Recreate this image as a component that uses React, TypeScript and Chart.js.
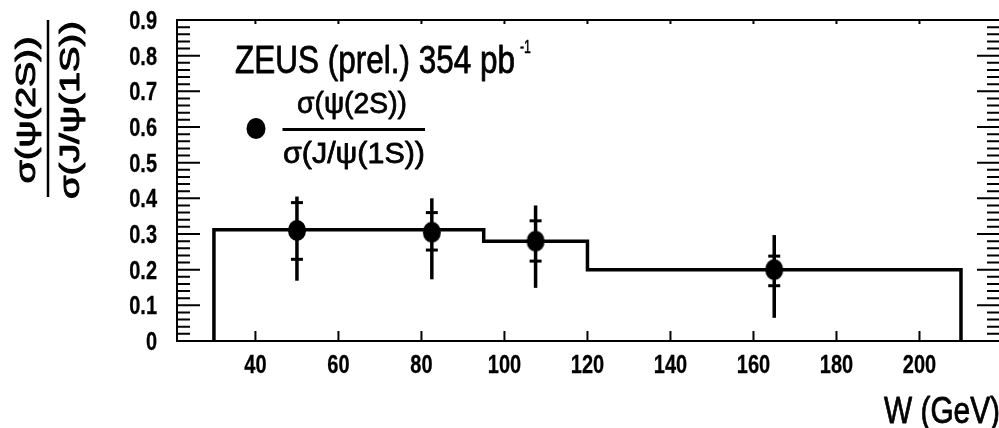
import React, { useEffect, useRef } from "react";
import { Chart, registerables } from "chart.js";

Chart.register(...registerables);

// ---- data ----
const wValues = [50, 82.5, 107.5, 165];
const ratioValues = [0.31, 0.305, 0.28, 0.2];
const statUpper = [0.388, 0.36, 0.337, 0.238];
const statLower = [0.229, 0.255, 0.224, 0.155];
const totalUpper = [0.405, 0.4, 0.38, 0.297];
const totalLower = [0.169, 0.173, 0.149, 0.065];

const binEdges = [30, 95, 120, 210];
const binHeights = [0.312, 0.28, 0.2];

const xTickValues = [40, 60, 80, 100, 120, 140, 160, 180, 200];
const xTickLabels = ["40", "60", "80", "100", "120", "140", "160", "180", "200"];
const yTickValues = [0, 0.1, 0.2, 0.3, 0.4, 0.5, 0.6, 0.7, 0.8, 0.9];
const yTickLabels = ["0", "0.1", "0.2", "0.3", "0.4", "0.5", "0.6", "0.7", "0.8", "0.9"];
const yMinorPerMajor = 5;

const titleText = "ZEUS (prel.) 354 pb";
const titleSup = "-1";
const legendNum = "σ(ψ(2S))";
const legendDen = "σ(J/ψ(1S))";
const xTitle = "W (GeV)";

const FONT = "'Liberation Sans', Arial, Helvetica, sans-serif";

function makeEllipse(rx: number, ry: number) {
  const c = document.createElement("canvas");
  c.width = Math.ceil(rx * 2) + 2;
  c.height = Math.ceil(ry * 2) + 2;
  const g = c.getContext("2d")!;
  g.fillStyle = "#000";
  g.beginPath();
  g.ellipse(c.width / 2, c.height / 2, rx, ry, 0, 0, Math.PI * 2);
  g.fill();
  return c;
}

// draws text squeezed horizontally; either to a target width (targetW>0) or by a fixed factor (-targetW)
function drawFit(
  ctx: CanvasRenderingContext2D,
  text: string,
  x: number,
  y: number,
  size: number,
  targetW: number,
  align: "left" | "center" | "right",
  weight = "normal",
  stroke = 0.8
) {
  ctx.save();
  ctx.font = `${weight} ${size}px ${FONT}`;
  ctx.textBaseline = "alphabetic";
  ctx.textAlign = "left";
  const w = ctx.measureText(text).width;
  const s = targetW > 0 ? targetW / w : -targetW;
  ctx.translate(x, y);
  ctx.scale(s, 1);
  ctx.fillStyle = "#000";
  ctx.strokeStyle = "#000";
  ctx.lineWidth = stroke;
  ctx.lineJoin = "round";
  const ox = align === "center" ? -w / 2 : align === "right" ? -w : 0;
  ctx.fillText(text, ox, 0);
  if (stroke > 0) ctx.strokeText(text, ox, 0);
  ctx.restore();
}

const decorPlugin = {
  id: "decor",
  afterDatasetsDraw(chart: any) {
    const ctx: CanvasRenderingContext2D = chart.ctx;
    const xs = chart.scales.x;
    const ys = chart.scales.y;
    ctx.save();
    ctx.strokeStyle = "#000";
    wValues.forEach((w, i) => {
      const px = xs.getPixelForValue(w);
      ctx.lineWidth = 3.5;
      ctx.beginPath();
      ctx.moveTo(px, ys.getPixelForValue(totalLower[i]));
      ctx.lineTo(px, ys.getPixelForValue(totalUpper[i]));
      ctx.stroke();
      ctx.lineWidth = 3;
      [statUpper[i], statLower[i]].forEach((v) => {
        const py = ys.getPixelForValue(v);
        ctx.beginPath();
        ctx.moveTo(px - 6, py);
        ctx.lineTo(px + 6, py);
        ctx.stroke();
      });
    });
    ctx.restore();
  },
  afterDraw(chart: any) {
    const ctx: CanvasRenderingContext2D = chart.ctx;
    const a = chart.chartArea;
    const xs = chart.scales.x;
    const ys = chart.scales.y;
    ctx.save();
    ctx.strokeStyle = "#000";
    ctx.lineWidth = 2;
    ctx.strokeRect(a.left, a.top, a.right - a.left, a.bottom - a.top);

    // y ticks, both sides
    const drawY = (v: number, len: number) => {
      const py = ys.getPixelForValue(v);
      ctx.beginPath();
      ctx.moveTo(a.left, py);
      ctx.lineTo(a.left + len, py);
      ctx.moveTo(a.right, py);
      ctx.lineTo(a.right - len, py);
      ctx.stroke();
    };
    yTickValues.forEach((v, i) => {
      drawY(v, 23);
      if (i < yTickValues.length - 1) {
        const d = (yTickValues[i + 1] - v) / yMinorPerMajor;
        for (let k = 1; k < yMinorPerMajor; k++) drawY(v + k * d, 13);
      }
    });
    // x ticks bottom & top
    xTickValues.forEach((v) => {
      const px = xs.getPixelForValue(v);
      ctx.beginPath();
      ctx.moveTo(px, a.bottom);
      ctx.lineTo(px, a.bottom - 10);
      ctx.moveTo(px, a.top);
      ctx.lineTo(px, a.top + 4);
      ctx.stroke();
    });
    ctx.restore();

    // tick labels from the axes' ticks
    xs.ticks.forEach((t: any, i: number) => {
      const px = xs.getPixelForValue(t.value);
      drawFit(ctx, xTickLabels[i], px, 373, 25, -0.8, "center", "bold", 0.3);
    });
    ys.ticks.forEach((t: any, i: number) => {
      const py = ys.getPixelForValue(t.value);
      drawFit(ctx, yTickLabels[i], 157, py + 9, 25, -0.8, "right", "bold", 0.3);
    });

    // title
    drawFit(ctx, titleText, 235, 73, 38, 280, "left");
    drawFit(ctx, titleSup, 520, 52.5, 19, 11, "left", "normal", 0.5);

    // legend
    ctx.save();
    ctx.fillStyle = "#000";
    ctx.beginPath();
    ctx.ellipse(256, 128.5, 9.5, 10.5, 0, 0, Math.PI * 2);
    ctx.fill();
    ctx.strokeStyle = "#000";
    ctx.lineWidth = 3;
    ctx.beginPath();
    ctx.moveTo(282.5, 129.5);
    ctx.lineTo(425, 129.5);
    ctx.stroke();
    ctx.restore();
    drawFit(ctx, legendNum, 352, 113, 30, 110, "center");
    drawFit(ctx, legendDen, 354, 163, 30, 142, "center");

    // x title
    drawFit(ctx, xTitle, 884, 423, 37, 116, "left");

    // y title (rotated fraction)
    ctx.save();
    ctx.strokeStyle = "#000";
    ctx.lineWidth = 2.5;
    ctx.beginPath();
    ctx.moveTo(48, 20);
    ctx.lineTo(48, 197);
    ctx.stroke();
    ctx.restore();
    const rot = (text: string, cx: number, cy: number, len: number) => {
      ctx.save();
      ctx.translate(cx, cy);
      ctx.rotate(-Math.PI / 2);
      drawFit(ctx, text, 0, 0, 28, len, "center", "normal", 1);
      ctx.restore();
    };
    rot(legendNum, 35, 110, 147);
    rot(legendDen, 78.5, 110, 178);
  },
};

export default function App() {
  const ref = useRef<HTMLCanvasElement | null>(null);
  useEffect(() => {
    document.body.style.margin = "0";
    const histPoints: { x: number; y: number }[] = [];
    histPoints.push({ x: binEdges[0], y: 0 });
    binHeights.forEach((h, i) => {
      histPoints.push({ x: binEdges[i], y: h });
      histPoints.push({ x: binEdges[i + 1], y: h });
    });
    histPoints.push({ x: binEdges[binEdges.length - 1], y: 0 });

    const marker = makeEllipse(9, 10.5);

    const chart = new Chart(ref.current!, {
      type: "scatter",
      data: {
        datasets: [
          {
            label: "hist",
            data: histPoints,
            showLine: true,
            borderColor: "#000",
            borderWidth: 3.5,
            pointRadius: 0,
            tension: 0,
            fill: false,
          } as any,
          {
            label: "ratio",
            data: wValues.map((w, i) => ({ x: w, y: ratioValues[i] })),
            pointStyle: marker as any,
            pointRadius: 9,
            backgroundColor: "#000",
            borderColor: "#000",
          },
        ],
      },
      options: {
        animation: false,
        responsive: false,
        devicePixelRatio: 1,
        layout: { padding: { top: 20, right: 7, left: 0, bottom: 0 } },
        plugins: { legend: { display: false }, tooltip: { enabled: false } },
        scales: {
          x: {
            type: "linear",
            min: 21.1,
            max: 219.4,
            grid: { display: false, drawTicks: false },
            border: { display: false },
            afterBuildTicks: (s: any) => {
              s.ticks = xTickValues.map((v) => ({ value: v }));
            },
            afterFit: (s: any) => {
              s.height = 87;
            },
            ticks: {
              display: false,
              autoSkip: false,
              callback: (_v: any, i: number) => xTickLabels[i],
            },
          },
          y: {
            type: "linear",
            min: 0,
            max: 0.9,
            grid: { display: false, drawTicks: false },
            border: { display: false },
            afterBuildTicks: (s: any) => {
              s.ticks = yTickValues.map((v) => ({ value: v }));
            },
            afterFit: (s: any) => {
              s.width = 177;
            },
            ticks: {
              display: false,
              callback: (_v: any, i: number) => yTickLabels[i],
            },
          },
        },
      },
      plugins: [decorPlugin],
    });
    return () => chart.destroy();
  }, []);

  return (
    <div style={{ position: "absolute", left: 0, top: 0, width: 999, height: 428, overflow: "hidden", background: "#fff" }}>
      <canvas ref={ref} width={1010} height={428} style={{ width: 1010, height: 428, display: "block" }} />
    </div>
  );
}
